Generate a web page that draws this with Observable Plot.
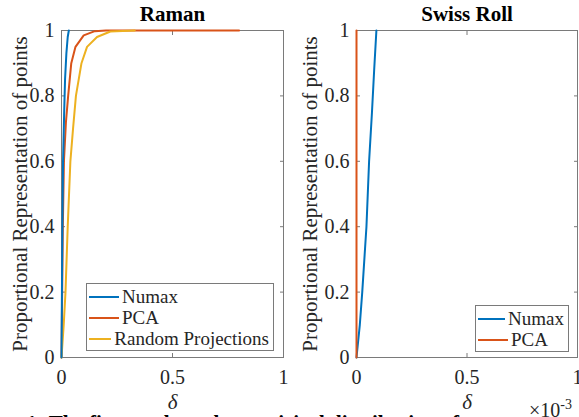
<!DOCTYPE html>
<html><head><meta charset="utf-8">
<script src="https://cdn.jsdelivr.net/npm/d3@7"></script>
<script src="https://cdn.jsdelivr.net/npm/@observablehq/plot@0.6"></script>
<style>
html,body{margin:0;padding:0;background:#fff;}
#wrap{position:relative;width:579px;height:417px;overflow:hidden;font-family:'Liberation Serif',serif;color:#262626;}
.panel{position:absolute;top:0;}
#wrap svg, #wrap svg text, #wrap svg g{font-family:'Liberation Serif',serif !important;}
.legend{position:absolute;background:#fff;border:1px solid #7a7a7a;font-family:'Liberation Serif',serif;font-size:19px;line-height:21px;padding:2px 4px 1px 2px;}
.legend div{display:flex;align-items:center;white-space:nowrap;}
.legend span.sw{display:inline-block;width:30px;height:2px;margin-right:3px;}
#caption{position:absolute;left:-38px;top:411px;font-size:21px;font-weight:bold;white-space:nowrap;color:#000;}
#exp{position:absolute;left:529px;top:397px;font-size:20px;}
#exp sup{font-size:14px;}
</style>
</head><body>
<div id="wrap">
  <div id="p1" class="panel" style="left:0"></div>
  <div id="p2" class="panel" style="left:290px"></div>
  <div class="legend" style="left:86px;top:283px;width:180px;">
    <div><span class="sw" style="background:#0072BD"></span>Numax</div>
    <div><span class="sw" style="background:#D95319"></span>PCA</div>
    <div><span class="sw" style="background:#EDB120"></span>Random Projections</div>
  </div>
  <div class="legend" style="left:475px;top:305px;width:86px;">
    <div><span class="sw" style="background:#0072BD"></span>Numax</div>
    <div><span class="sw" style="background:#D95319"></span>PCA</div>
  </div>
  <div id="caption">Figure 1: The figures show the empirical distribution of</div>
  <div id="exp">×10<sup>-3</sup></div>
</div>
<script>
// Raman panel (delta, proportion)
const ramanNumaxX = [0, 0.002, 0.004, 0.007, 0.012, 0.016, 0.022, 0.028, 0.033];
const ramanNumaxY = [0, 0.2, 0.4, 0.6, 0.75, 0.85, 0.93, 0.98, 1];
const ramanPcaX = [0, 0.003, 0.006, 0.011, 0.02, 0.03, 0.044, 0.063, 0.1, 0.15, 0.2, 0.8];
const ramanPcaY = [0, 0.2, 0.4, 0.6, 0.72, 0.8, 0.9, 0.95, 0.985, 0.998, 1, 1];
const ramanRpX = [0, 0.01, 0.018, 0.028, 0.04, 0.052, 0.065, 0.09, 0.115, 0.16, 0.22, 0.33];
const ramanRpY = [0, 0.1, 0.2, 0.4, 0.6, 0.7, 0.8, 0.9, 0.95, 0.98, 0.997, 1];
// Swiss Roll panel (delta, proportion)
const swissNumaxX = [0, 0.000015, 0.000026, 0.000045, 0.000057, 0.00007, 0.00008, 0.00009];
const swissNumaxY = [0, 0.1, 0.2, 0.4, 0.6, 0.75, 0.88, 1];
const swissPcaX = [0, 0];
const swissPcaY = [0, 1];

const xTicksRaman = [0, 0.5, 1];
const xTicksSwiss = [0, 0.0005, 0.001];
const yTicks = [0, 0.2, 0.4, 0.6, 0.8, 1];
const yLabel = "Proportional Representation of points";
const xLabel = "δ";
const colors = {Numax: "#0072BD", PCA: "#D95319", RP: "#EDB120"};
const serif = "Liberation Serif";

function rows(xs, ys, s) { return xs.map((x, i) => ({x, y: ys[i], s})); }

function panel(opts) {
  const {title, series, xDomain, xTicks, tickFmt, marginLeft, marginRight, width} = opts;
  const data = series.flat();
  return Plot.plot({
    width, height: 417,
    marginLeft, marginRight, marginTop: 30, marginBottom: 60,
    style: {fontFamily: serif, fontSize: "20px", color: "#262626", background: "transparent", overflow: "visible"},
    x: {domain: xDomain, ticks: xTicks},
    y: {domain: [0, 1], ticks: yTicks},
    color: {domain: ["Numax", "PCA", "RP"], range: [colors.Numax, colors.PCA, colors.RP]},
    marks: [
      Plot.frame({stroke: "#7a7a7a", strokeWidth: 1}),
      Plot.axisY({anchor: "left", ticks: yTicks, tickSize: -4, tickPadding: 11, tickFormat: d => String(d), label: null, fontSize: 20, fontFamily: serif, stroke: "#7a7a7a"}),
      Plot.axisY({anchor: "right", ticks: yTicks, tickSize: -4, tickFormat: () => "", label: null, stroke: "#7a7a7a"}),
      Plot.axisX({anchor: "bottom", ticks: xTicks, tickSize: -4, tickPadding: 16, tickFormat: tickFmt, label: null, fontSize: 20, fontFamily: serif, stroke: "#7a7a7a"}),
      Plot.axisX({anchor: "top", ticks: xTicks, tickSize: -4, tickFormat: () => "", label: null, stroke: "#7a7a7a"}),
      Plot.line(data, {x: "x", y: "y", z: "s", stroke: "s", strokeWidth: 2}),
      Plot.text([title], {frameAnchor: "top", lineAnchor: "middle", dy: -16, text: d => d, fontWeight: "bold", fontSize: 21, fontFamily: serif, fill: "#000"}),
      Plot.text([yLabel], {frameAnchor: "left", lineAnchor: "middle", textAnchor: "middle", dx: -(marginLeft - 20), rotate: -90, text: d => d, fontSize: 21, fontFamily: serif, fill: "#262626"}),
      Plot.text([xLabel], {frameAnchor: "bottom", lineAnchor: "middle", dy: 45, text: d => d, fontSize: 21, fontStyle: "italic", fontFamily: serif, fill: "#262626"})
    ]
  });
}

document.getElementById("p1").append(panel({
  title: "Raman",
  series: [rows(ramanPcaX, ramanPcaY, "PCA"), rows(ramanRpX, ramanRpY, "RP"), rows(ramanNumaxX, ramanNumaxY, "Numax")],
  xDomain: [0, 1], xTicks: xTicksRaman, tickFmt: d => String(d),
  marginLeft: 61, marginRight: 7, width: 290
}));
document.getElementById("p2").append(panel({
  title: "Swiss Roll",
  series: [rows(swissNumaxX, swissNumaxY, "Numax"), rows(swissPcaX, swissPcaY, "PCA")],
  xDomain: [0, 0.001], xTicks: xTicksSwiss, tickFmt: d => String(+(d * 1000).toFixed(1)),
  marginLeft: 66, marginRight: 2, width: 289
}));
</script>
</body></html>
